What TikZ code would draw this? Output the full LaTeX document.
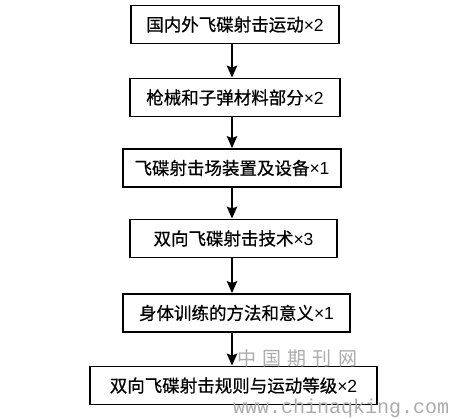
\documentclass[tikz,border=0pt]{standalone}
\usepackage{fontspec}
\setmainfont{Liberation Sans}
\newfontfamily\cjk[FakeBold=0.6]{Noto Sans CJK SC}
\newfontfamily\wmcjk{Noto Sans CJK SC}
\newfontfamily\wmmono{Liberation Mono}
\usepackage{tikz}
\usetikzlibrary{arrows.meta,positioning}

\tikzset{
  stage/.style={draw, line width=1.9pt, minimum height=38pt, inner sep=0pt,
    font=\fontsize{17.5}{20}\selectfont},
  flow/.style={-{Stealth[length=12pt,width=10.5pt,inset=2pt]}, line width=1.6pt},
  wmark/.style={text=gray!65, inner sep=0pt}
}

\begin{document}
\begin{tikzpicture}[x=1pt, y=-1pt]
            \useasboundingbox[fill=white] (0,0) rectangle (462,418);
            \coordinate (axis) at (232,0);

            % stages
            \node[stage, minimum width=208pt] (s1) at (235,24.5) {{\cjk 国内外飞碟射击运动}×2};
            \node[stage, minimum width=210pt] (s2) at (235,97.5) {{\cjk 枪械和子弹材料部分}×2};
            \node[stage, minimum width=218pt] (s3) at (232,168) {{\cjk 飞碟射击场装置及设备}×1};
            \node[stage, minimum width=207pt] (s4) at (233.5,238.5) {{\cjk 双向飞碟射击技术}×3};
            \node[stage, minimum width=227pt] (s5) at (236.5,313) {{\cjk 身体训练的方法和意义}×1};
            \node[stage, minimum width=287pt] (s6) at (233.5,385.5) {{\cjk 双向飞碟射击规则与运动等级}×2};

            % arrows
            \draw[flow] (s1.south -| axis) -- (s2.north -| axis);
            \draw[flow] (s2.south -| axis) -- (s3.north -| axis);
            \draw[flow] (s3.south -| axis) -- (s4.north -| axis);
            \draw[flow] (s4.south -| axis) -- (s5.north -| axis);
            \draw[flow] (s5.south -| axis) -- (s6.north -| axis);

            % watermark
            \foreach \ch [count=\i from 0] in {中,国,期,刊,网}
                \node[wmark, font=\wmcjk\fontsize{19}{19}\selectfont] (w\i) at (246.5+25.25*\i,358.5) {\ch};
            \node[wmark, anchor=base west, font=\wmmono\fontsize{20}{21}\selectfont] (url) at (233,413) {www.chinaqking.com};
        \end{tikzpicture}
\end{document}
